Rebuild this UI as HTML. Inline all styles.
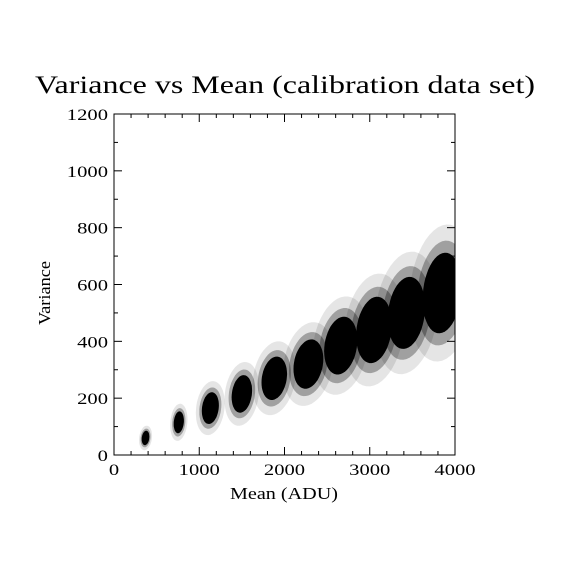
<!DOCTYPE html>
<html><head><meta charset="utf-8"><style>
body{margin:0;background:#fff}
svg{display:block}
text{font-family:"Liberation Serif",serif;fill:#000}
</style></head><body>
<svg id="chart" width="570" height="570" viewBox="0 0 570 570">
<text x="285" y="93" font-size="25" text-anchor="middle" textLength="500" lengthAdjust="spacingAndGlyphs">Variance vs Mean (calibration data set)</text>
<g id="clusters"></g>
<rect x="114" y="114" width="341" height="341" fill="none" stroke="#000" stroke-width="1"/>
<g id="axes"></g>
<text x="284" y="499" font-size="17" text-anchor="middle" textLength="108" lengthAdjust="spacingAndGlyphs">Mean (ADU)</text>
<text x="50" y="293" font-size="17" text-anchor="middle" transform="rotate(-90 50 293)" textLength="64" lengthAdjust="spacingAndGlyphs">Variance</text>
</svg>
<script>
const clusterMeans=[370,760,1130,1500,1880,2280,2660,3050,3430,3850];
const clusterVariances=[60,115,165,215,270,320,385,440,500,570];
const clusterMeanSpread=[45,60,100,120,150,175,195,210,220,230];
const clusterVarSpread=[25,38,55,65,75,85,100,115,125,140];
const xTicks=[0,1000,2000,3000,4000];
const yTicks=[0,200,400,600,800,1000,1200];
const NS="http://www.w3.org/2000/svg";
const X0=114,X1=455,Y0=455,Y1=114;
const sx=v=>X0+(v/4000)*(X1-X0);
const sy=v=>Y0-(v/1200)*(Y0-Y1);
const cg=document.getElementById('clusters');
function blob(cx,cv,a,b,scale,op,name){
  const pts=[];
  for(let i=0;i<48;i++){
    const t=i/48*Math.PI*2;
    const dx=a*scale*Math.cos(t);
    const dv=b*scale*Math.sin(t)+0.1*dx;
    let x=cx+dx; if(x>4000)x=4000;
    pts.push(sx(x).toFixed(1)+','+sy(cv+dv).toFixed(1));
  }
  const p=document.createElementNS(NS,'polygon');
  p.setAttribute('points',pts.join(' '));
  p.setAttribute('fill','#000');
  p.setAttribute('fill-opacity',op);
  
  
  cg.appendChild(p);
}
clusterMeans.forEach((m,i)=>{
  const v=clusterVariances[i],a=clusterMeanSpread[i],b=clusterVarSpread[i];
  blob(m,v,a,b,1.7,0.1,'cluster-halo');
  blob(m,v,a,b,1.3,0.3,'cluster-outer');
  blob(m,v,a,b,1.0,1,'cluster-core');
});
const ag=document.getElementById('axes');
function line(x1,y1,x2,y2,name){
  const l=document.createElementNS(NS,'line');
  l.setAttribute('x1',x1);l.setAttribute('y1',y1);l.setAttribute('x2',x2);l.setAttribute('y2',y2);
  l.setAttribute('stroke','#000');
  
  
  ag.appendChild(l);
}
function label(x,y,s,anchor,name){
  const t=document.createElementNS(NS,'text');
  t.setAttribute('x',x);t.setAttribute('y',y);t.setAttribute('font-size','16');
  t.setAttribute('text-anchor',anchor);t.textContent=s;
  t.setAttribute('textLength',String(s.length*10.3));
  t.setAttribute('lengthAdjust','spacingAndGlyphs');
  
  
  ag.appendChild(t);
}
for(let v=0;v<=4000;v+=200){
  const x=sx(v),L=(v%1000===0)?8:4;
  line(x,Y0,x,Y0-L,'x-tick');line(x,Y1,x,Y1+L,'x-tick');
}
for(let v=0;v<=1200;v+=100){
  const y=sy(v),L=(v%200===0)?8:4;
  line(X0,y,X0+L,y,'y-tick');line(X1,y,X1-L,y,'y-tick');
}
xTicks.forEach(v=>label(sx(v),475,String(v),'middle','x-tick-label'));
yTicks.forEach(v=>label(X0-6,sy(v)+6,String(v),'end','y-tick-label'));
</script>
</body></html>
